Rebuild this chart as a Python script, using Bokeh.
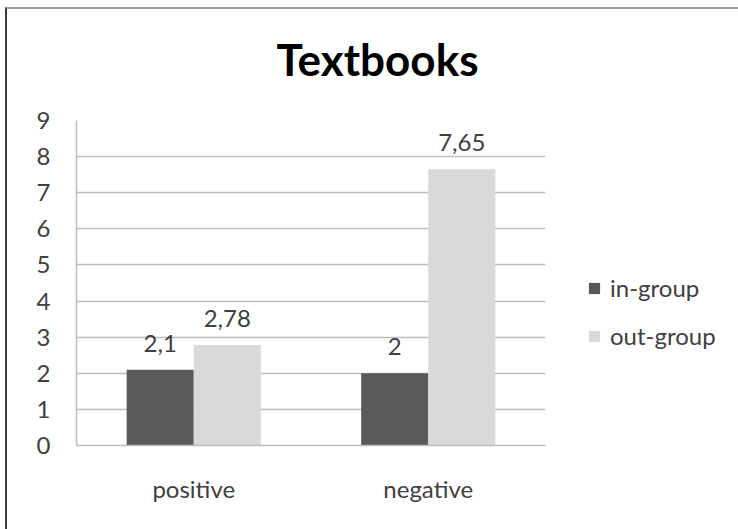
from bokeh.plotting import figure
from bokeh.models import ColumnDataSource, FactorRange, FixedTicker, Legend, LegendItem, Range1d, Title
from bokeh.transform import dodge
from bokeh.core.properties import value
from bokeh.embed import file_html
from bokeh.resources import INLINE

categories = ["positive", "negative"]
in_group = [2.1, 2.0]
out_group = [2.78, 7.65]
y_ticks = [0, 1, 2, 3, 4, 5, 6, 7, 8, 9]
series_names = ["in-group", "out-group"]
title_text = "Textbooks"

def fmt(v):
    return f"{v:g}".replace(".", ",")

src = ColumnDataSource(dict(
    cat=categories,
    inn=in_group,
    out=out_group,
    inn_lbl=[fmt(v) for v in in_group],
    out_lbl=[fmt(v) for v in out_group],
))

FONT = "Lato"
FS = "24px"
C_IN = "#595959"
C_OUT = "#d9d9d9"
GRID = "#bcbcbc"
TXT = "#404040"

# canvas starts at (7, 9) because of the css margin + border
p = figure(frame_width=469, frame_height=325, x_range=FactorRange(*categories), y_range=Range1d(0, 9),
           output_backend="svg", toolbar_location=None,
           min_border_left=69, min_border_right=193, min_border_top=111, min_border_bottom=84,
           styles={"margin-left": "5px", "margin-top": "7px",
                   "border-left": "2px solid #3a3a3a", "border-top": "2px solid #9a9a9a"})
p.outline_line_color = None

bw = 0.286
r_in = p.vbar(x=dodge("cat", -bw / 2, range=p.x_range), top="inn", width=bw, source=src,
              fill_color=C_IN, line_color=None)
r_out = p.vbar(x=dodge("cat", bw / 2, range=p.x_range), top="out", width=bw, source=src,
               fill_color=C_OUT, line_color=None)

p.text(x=dodge("cat", -bw / 2, range=p.x_range), y="inn", text="inn_lbl", source=src,
       text_align="center", text_baseline="bottom", y_offset=-18,
       text_font=value(FONT), text_font_size=FS, text_color=TXT)
p.text(x=dodge("cat", bw / 2, range=p.x_range), y="out", text="out_lbl", source=src,
       text_align="center", text_baseline="bottom", y_offset=-18,
       text_font=value(FONT), text_font_size=FS, text_color=TXT)

p.xgrid.grid_line_color = None
p.ygrid.grid_line_color = GRID
p.ygrid.grid_line_width = 1.5
p.yaxis.ticker = FixedTicker(ticks=y_ticks)

for ax in (p.xaxis, p.yaxis):
    ax.axis_line_color = GRID
    ax.axis_line_width = 1.5
    ax.major_tick_line_color = None
    ax.minor_tick_line_color = None
    ax.major_label_text_font = FONT
    ax.major_label_text_font_size = FS
    ax.major_label_text_color = TXT
p.yaxis.major_label_standoff = 20
p.xaxis.major_label_standoff = 22

p.title.text = title_text
p.title.align = "left"
p.title.vertical_align = "top"
p.title.text_font = FONT
p.title.text_font_size = "44px"
p.title.text_font_style = "bold"
p.title.text_color = "#000000"
p.title.offset = 200
p.title.standoff = 46

# thin spacer between the title and the plot area
spacer = Title(text=" ", text_font_size="1px", standoff=8)
p.add_layout(spacer, "above")

legend = Legend(items=[LegendItem(label=series_names[0], renderers=[r_in]),
                       LegendItem(label=series_names[1], renderers=[r_out])],
                location=(42, 95), orientation="vertical",
                glyph_width=14, glyph_height=14, label_height=24, spacing=19,
                padding=0, margin=0, border_line_color=None, background_fill_alpha=0,
                label_text_font=FONT, label_text_font_size=FS, label_text_color=TXT,
                label_standoff=9)
p.add_layout(legend, "right")

open("out.html", "w").write(file_html(p, INLINE))
